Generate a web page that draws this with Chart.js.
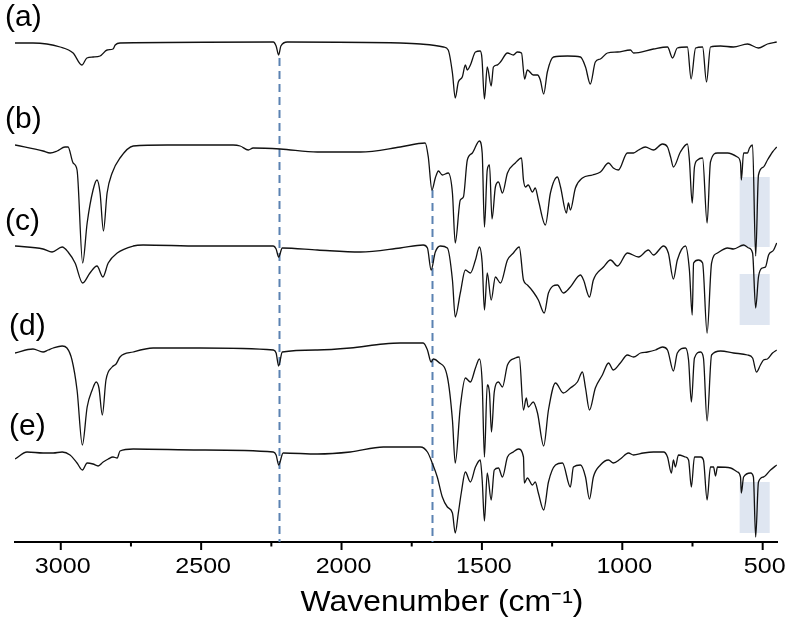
<!DOCTYPE html>
<html>
<head>
<meta charset="utf-8">
<script src="https://cdn.jsdelivr.net/npm/chart.js@4.4.1/dist/chart.umd.min.js"></script>
<style>
  html, body { margin: 0; padding: 0; background: #fff; }
  #wrap { width: 794px; height: 627px; }
</style>
</head>
<body>
<div id="wrap"><canvas id="ftir" width="794" height="627"></canvas></div>
<script>
// FTIR spectra, stacked with vertical offsets (a.u.)
const waveA = [3163,3099,3002,2956,2925,2907,2885,2860,2835,2814,2806,2789,2243,2233,2224,2216,2193,1791,1719,1637,1620,1605,1595,1584,1570,1559,1552,1541,1523,1506,1500,1491,1481,1467,1459,1445,1434,1409,1388,1374,1359,1348,1338,1317,1302,1292,1280,1267,1245,1195,1149,1131,1114,1096,1078,1053,1017,971,960,889,839,821,804,768,755,739,714,700,686,650,604,554,515,483,450];
const specA = [499,499,495,489,477,484,485,486,492,493,497,499,500,496,487,496,500,499,498,495,492,469,444,460,465,477,472,477,490,491,484,443,475,456,475,477,480,489,487,490,489,463,472,467,467,462,448,470,485,486,485,475,458,480,483,489,490,492,489,493,495,484,494,495,463,494,495,460,495,496,495,498,494,498,500];

const waveB = [3163,3063,3038,3013,2985,2974,2956,2942,2922,2906,2885,2871,2860,2848,2835,2817,2789,2742,2621,2386,2361,2332,2315,2218,2086,1933,1791,1702,1691,1678,1666,1655,1641,1620,1605,1595,1577,1566,1552,1534,1509,1499,1491,1481,1473,1464,1452,1441,1427,1409,1381,1359,1352,1345,1335,1320,1310,1299,1274,1256,1231,1220,1199,1192,1185,1167,1142,1106,1078,1049,1032,1014,982,960,942,918,889,857,839,828,818,793,768,761,751,743,732,714,698,686,661,625,590,579,576,568,554,547,536,525,515,497,483,465,450];
const specB = [397,391,389,391,395,395,379,372,279,319,352,362,349,311,349,369,384,396,397,397,396,392,394,393,390,390,395,399,385,352,364,371,367,369,349,299,342,345,382,389,401,389,315,372,377,323,355,360,349,369,379,384,362,355,357,350,354,342,317,349,365,355,329,339,332,354,364,367,370,379,374,372,389,389,392,395,392,398,395,385,375,390,398,382,339,375,382,384,319,380,389,389,385,379,362,389,389,394,397,286,367,375,382,390,395];

const waveC = [3163,3063,3031,2995,2974,2949,2922,2896,2871,2850,2831,2799,2742,2707,2504,2243,2233,2224,2211,2086,1933,1791,1709,1694,1681,1666,1648,1623,1605,1595,1577,1559,1541,1523,1509,1499,1491,1481,1467,1452,1434,1409,1388,1367,1352,1338,1317,1299,1278,1263,1231,1210,1185,1149,1138,1117,1103,1067,1042,1017,982,942,907,889,853,836,818,804,775,761,751,746,729,714,698,682,661,625,604,568,550,536,525,515,501,490,479,461,450];
const specC = [296,293,290,295,290,279,259,269,276,265,279,289,296,297,296,296,293,285,294,292,290,294,297,294,272,290,296,294,262,225,249,272,269,282,295,279,232,269,242,265,259,282,289,295,262,257,250,242,229,249,257,249,255,267,262,245,262,275,282,276,289,285,292,287,296,289,263,282,296,272,227,279,282,279,209,279,289,294,293,297,294,289,234,265,274,275,287,292,299];

const waveD = [3163,3099,3063,3045,3027,2995,2978,2960,2942,2923,2906,2888,2874,2864,2852,2839,2817,2803,2789,2742,2671,2504,2243,2233,2224,2211,2086,1969,1851,1791,1709,1694,1681,1673,1655,1623,1605,1595,1577,1559,1541,1523,1509,1499,1491,1481,1473,1466,1456,1441,1427,1409,1381,1367,1352,1342,1335,1317,1302,1280,1263,1238,1210,1185,1160,1142,1131,1117,1096,1071,1049,1032,1007,982,960,935,910,882,857,839,818,804,775,764,754,743,721,711,698,682,650,604,554,536,522,508,497,483,465,450];
const specD = [189,193,190,192,194,196,194,182,152,97,135,152,160,154,127,162,175,178,185,190,194,194,192,189,176,190,192,194,198,199,199,192,180,183,180,165,122,79,135,164,160,174,183,159,85,157,149,110,150,160,155,177,184,185,132,144,135,140,129,96,132,159,149,154,160,170,154,132,154,167,179,172,179,187,185,189,190,192,195,192,171,189,194,182,140,184,190,184,121,187,191,189,187,184,170,177,182,183,189,192];

const waveE = [3163,3120,3063,3027,2995,2967,2942,2923,2906,2885,2867,2849,2831,2814,2799,2789,2742,2504,2243,2233,2224,2208,2086,1969,1851,1791,1719,1694,1677,1659,1641,1623,1605,1595,1584,1573,1559,1541,1523,1506,1499,1491,1481,1467,1456,1441,1427,1409,1388,1370,1352,1349,1338,1320,1310,1299,1280,1263,1238,1213,1185,1174,1149,1131,1117,1103,1078,1049,1032,1007,978,960,925,889,853,839,825,818,811,800,775,764,754,743,721,711,698,686,675,668,661,614,590,579,576,568,543,533,525,515,497,472,450];
const specE = [83,90,89,89,90,87,79,72,79,78,76,80,83,85,84,91,93,92,90,87,77,89,88,90,95,95,95,90,79,65,45,35,29,9,29,50,70,60,75,82,62,21,69,42,72,74,65,85,90,93,85,59,64,57,60,49,32,60,77,79,55,75,77,65,43,65,77,82,79,83,89,87,89,90,90,85,69,82,75,87,85,82,55,85,85,82,42,75,75,66,75,74,70,65,49,65,69,65,5,60,65,72,77];

const traceLabels = ['(a)', '(b)', '(c)', '(d)', '(e)'];
const labelLevels = [524, 422, 320, 215, 115];

// reference bands (cm-1) and their tops
const markerWn = [2224, 1679];
const markerTop = [484, 352];

// shaded region (cm-1) and the vertical spans for traces b, c, e
const bandWn = [582, 475];
const bandSpans = [[295, 365], [217, 268], [9, 60]];

const tickVals = [3000, 2750, 2500, 2250, 2000, 1750, 1500, 1250, 1000, 750, 500];
const labelledTicks = [3000, 2500, 2000, 1500, 1000, 500];
const xTitle = 'Wavenumber (cm\u207B\u00B9)';

function pts(w, v) {
    return w.map((x, i) => ({ x: x, y: v[i] }));
}

const FONT = '"Liberation Sans", Arial, sans-serif';

// text drawn a little wide, like the original figure
function wideText(ctx, text, cx, cy, sx) {
    ctx.save();
    ctx.translate(cx, cy);
    ctx.scale(sx, 1);
    ctx.fillText(text, 0, 0);
    ctx.restore();
}

const extras = {
    id: 'extras',
    beforeDatasetsDraw(chart) {
        const { ctx, scales: { x, y } } = chart;
        ctx.save();
        ctx.fillStyle = '#dfe6f1';
        bandSpans.forEach(s => {
            const x0 = x.getPixelForValue(bandWn[0]);
            const x1 = x.getPixelForValue(bandWn[1]);
            const y0 = y.getPixelForValue(s[1]);
            const y1 = y.getPixelForValue(s[0]);
            ctx.fillRect(x0, y0, x1 - x0, y1 - y0);
        });
        ctx.strokeStyle = '#5b82b2';
        ctx.lineWidth = 2;
        ctx.setLineDash([8, 5]);
        markerWn.forEach((w, i) => {
            const px = Math.round(x.getPixelForValue(w)) + 0.5;
            ctx.beginPath();
            ctx.moveTo(px, y.getPixelForValue(markerTop[i]));
            ctx.lineTo(px, y.getPixelForValue(0));
            ctx.stroke();
        });
        ctx.restore();
    },
    afterDraw(chart) {
        const { ctx, chartArea, scales: { x, y } } = chart;
        ctx.save();
        // tick marks, long where labelled
        ctx.strokeStyle = '#000';
        ctx.lineWidth = 2;
        ctx.fillStyle = '#000';
        ctx.font = '22px ' + FONT;
        ctx.textAlign = 'center';
        ctx.textBaseline = 'middle';
        x.ticks.forEach(t => {
            const px = x.getPixelForValue(t.value);
            const major = labelledTicks.includes(t.value);
            ctx.beginPath();
            ctx.moveTo(px, chartArea.bottom);
            ctx.lineTo(px, chartArea.bottom + (major ? 8 : 4.5));
            ctx.stroke();
            if (major) wideText(ctx, String(t.value), px + 2, chartArea.bottom + 25, 1.14);
        });
        ctx.font = '30px ' + FONT;
        ctx.textAlign = 'left';
        traceLabels.forEach((t, i) => {
            const off = i > 2 ? 6 : 2;
            ctx.fillText(t, chartArea.left - 12 + off, y.getPixelForValue(labelLevels[i]));
        });
        // axis title, set a little right of centre
        ctx.font = '29px ' + FONT;
        ctx.textAlign = 'center';
        wideText(ctx, xTitle, (chartArea.left + chartArea.right) / 2 + 46, chartArea.bottom + 61, 1.1);
        ctx.restore();
    }
};

const series = [pts(waveA, specA), pts(waveB, specB), pts(waveC, specC), pts(waveD, specD), pts(waveE, specE)];

new Chart(document.getElementById('ftir'), {
    type: 'line',
    data: {
        datasets: series.map((d, i) => ({
            label: traceLabels[i],
            data: d,
            borderColor: '#111',
            borderWidth: 1.3,
            pointRadius: 0,
            cubicInterpolationMode: 'monotone',
            fill: false
        }))
    },
    options: {
        responsive: false,
        animation: false,
        devicePixelRatio: 1,
        layout: { padding: { left: 15, right: 17, top: 0, bottom: 0 } },
        plugins: {
            legend: { display: false },
            tooltip: { enabled: false }
        },
        scales: {
            x: {
                type: 'linear',
                reverse: true,
                min: 449,
                max: 3163,
                grid: { display: false },
                border: { display: true, color: '#000', width: 2 },
                afterBuildTicks: s => { s.ticks = tickVals.map(v => ({ value: v })); },
                ticks: { display: false, autoSkip: false },
                title: { display: false },
                afterFit: s => { s.height = 85; }
            },
            y: {
                display: false,
                min: 0,
                max: 542
            }
        }
    },
    plugins: [extras]
});
</script>
</body>
</html>
